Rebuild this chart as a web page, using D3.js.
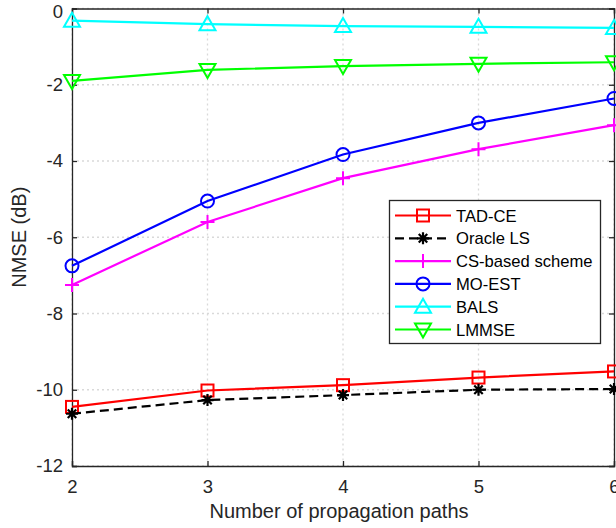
<!DOCTYPE html>
<html><head><meta charset="utf-8">
<script src="https://cdn.jsdelivr.net/npm/d3@7"></script>
<style>body{margin:0;background:#fff;}svg{display:block;font-family:"Liberation Sans",Arial,sans-serif;}</style>
</head><body><svg id="c" width="616" height="528"></svg>
<script>
const paths = [2, 3, 4, 5, 6];
const tadCE = [-10.45, -10.02, -9.88, -9.68, -9.52];
const oracleLS = [-10.63, -10.27, -10.14, -10.0, -9.98];
const csBased = [-7.25, -5.6, -4.45, -3.69, -3.06];
const moEst = [-6.75, -5.05, -3.83, -3.0, -2.36];
const bals = [-0.32, -0.41, -0.46, -0.48, -0.51];
const lmmse = [-1.9, -1.61, -1.51, -1.45, -1.41];
const yTicks = [0, -2, -4, -6, -8, -10, -12];
const xTicks = [2, 3, 4, 5, 6];

const series = [
  {name: "TAD-CE", values: tadCE, color: "#ff0000", marker: "square", dash: null},
  {name: "Oracle LS", values: oracleLS, color: "#000000", marker: "star", dash: "9,5"},
  {name: "CS-based scheme", values: csBased, color: "#ff00ff", marker: "plus", dash: null},
  {name: "MO-EST", values: moEst, color: "#0000ff", marker: "circle", dash: null},
  {name: "BALS", values: bals, color: "#00ffff", marker: "triangle", dash: null},
  {name: "LMMSE", values: lmmse, color: "#00ff00", marker: "triangleDown", dash: null}
];

const svg = d3.select("#c");
const L = 72, R = 614, T = 8.5, B = 466;
const x = d3.scaleLinear().domain([2, 6]).range([L, R]);
const y = d3.scaleLinear().domain([-12, 0]).range([B, T]);
const axisColor = "#262626";

// grid
const g = svg.append("g");
g.selectAll(".gx").data(xTicks).enter().append("line")
  .attr("x1", d => x(d)).attr("x2", d => x(d)).attr("y1", T).attr("y2", B)
  .attr("stroke", "#d9d9d9").attr("stroke-width", 1.3).attr("stroke-dasharray", "2,3");
g.selectAll(".gy").data(yTicks).enter().append("line")
  .attr("x1", L).attr("x2", R).attr("y1", d => y(d)).attr("y2", d => y(d))
  .attr("stroke", "#d9d9d9").attr("stroke-width", 1.3).attr("stroke-dasharray", "2,3");

// axes
const ax = svg.append("g").attr("transform", `translate(0,${B})`)
  .call(d3.axisBottom(x).tickValues(xTicks).tickSize(-5).tickPadding(14).tickFormat(d3.format("d")));
const ay = svg.append("g").attr("transform", `translate(${L},0)`)
  .call(d3.axisLeft(y).tickValues(yTicks).tickSize(-5).tickPadding(9).tickFormat(d => d === 0 ? "0" : "-" + Math.abs(d)));
const axTop = svg.append("g").attr("transform", `translate(0,${T})`)
  .call(d3.axisTop(x).tickValues(xTicks).tickSize(-5).tickFormat(""));
const ayR = svg.append("g").attr("transform", `translate(${R},0)`)
  .call(d3.axisRight(y).tickValues(yTicks).tickSize(-5).tickFormat(""));
[ax, ay, axTop, ayR].forEach(a => {
  a.selectAll("path").attr("stroke", axisColor).attr("stroke-width", 1.3);
  a.selectAll("line").attr("stroke", axisColor).attr("stroke-width", 1.3);
  a.selectAll("text").attr("fill", axisColor).style("font-size", "18.5px").style("font-family", '"Liberation Sans",Arial,sans-serif');
});
// keep the top "0" label inside the picture
ay.selectAll(".tick").filter(d => d === 0).select("text").attr("dy", "0.47em");

function drawMarker(sel, type, color, cx, cy) {
  const s = 6;
  if (type === "square") {
    sel.append("rect").attr("x", cx - s).attr("y", cy - s).attr("width", 2*s).attr("height", 2*s)
      .attr("fill", "none").attr("stroke", color).attr("stroke-width", 2);
  } else if (type === "circle") {
    sel.append("circle").attr("cx", cx).attr("cy", cy).attr("r", 6.5)
      .attr("fill", "none").attr("stroke", color).attr("stroke-width", 2);
  } else if (type === "plus") {
    sel.append("path").attr("d", `M${cx-7},${cy}H${cx+7}M${cx},${cy-7}V${cy+7}`)
      .attr("stroke", color).attr("stroke-width", 2).attr("fill", "none");
  } else if (type === "star") {
    const r = 6;
    let d = "";
    for (let i = 0; i < 4; i++) {
      const a = i * Math.PI / 4;
      d += `M${cx - r*Math.cos(a)},${cy - r*Math.sin(a)}L${cx + r*Math.cos(a)},${cy + r*Math.sin(a)}`;
    }
    sel.append("path").attr("d", d).attr("stroke", color).attr("stroke-width", 2.2).attr("fill", "none");
  } else if (type === "triangle") {
    sel.append("path").attr("d", `M${cx},${cy-8}L${cx+8},${cy+6}L${cx-8},${cy+6}Z`)
      .attr("fill", "none").attr("stroke", color).attr("stroke-width", 2);
  } else if (type === "triangleDown") {
    sel.append("path").attr("d", `M${cx},${cy+8}L${cx+8},${cy-6}L${cx-8},${cy-6}Z`)
      .attr("fill", "none").attr("stroke", color).attr("stroke-width", 2);
  }
}

const line = d3.line().x((d, i) => x(paths[i])).y(d => y(d));
const plot = svg.append("g");
series.forEach(s => {
  plot.append("path").datum(s.values).attr("d", line)
    .attr("fill", "none").attr("stroke", s.color).attr("stroke-width", 2.2)
    .attr("stroke-dasharray", s.dash);
  s.values.forEach((v, i) => drawMarker(plot, s.marker, s.color, x(paths[i]), y(v)));
});

// legend
const lg = svg.append("g");
lg.append("rect").attr("x", 389.5).attr("y", 200.5).attr("width", 211).attr("height", 143)
  .attr("fill", "#fff").attr("stroke", axisColor).attr("stroke-width", 1.3);
series.forEach((s, i) => {
  const ly = 215.5 + i * 22.8;
  lg.append("line").attr("x1", 395).attr("x2", 451).attr("y1", ly).attr("y2", ly)
    .attr("stroke", s.color).attr("stroke-width", 2.2).attr("stroke-dasharray", s.dash);
  drawMarker(lg, s.marker, s.color, 423, ly);
  lg.append("text").attr("x", 456).attr("y", ly + 6).text(s.name)
    .attr("fill", "#000").style("font-size", "16.6px");
});

// axis titles
svg.append("text").attr("x", 339).attr("y", 518).attr("text-anchor", "middle")
  .attr("fill", axisColor).style("font-size", "20px").text("Number of propagation paths");
svg.append("text").attr("transform", `translate(25.5,${(T + B) / 2}) rotate(-90)`).attr("text-anchor", "middle")
  .attr("fill", axisColor).style("font-size", "20px").text("NMSE (dB)");
</script></body></html>
